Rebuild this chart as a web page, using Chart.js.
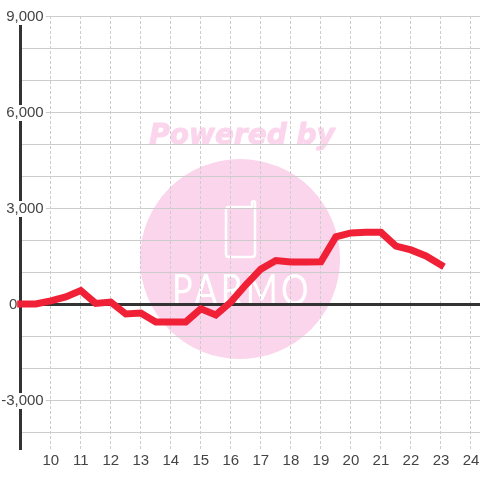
<!DOCTYPE html>
<html><head><meta charset="utf-8">
<style>html,body{margin:0;padding:0;background:#fff}canvas{display:block}</style>
<script src="https://cdn.jsdelivr.net/npm/chart.js@4"></script>
</head><body><canvas id="c" width="480" height="480"></canvas>
<script>
const hours=[9,9.5,10,10.5,11,11.5,12,12.5,13,13.5,14,14.5,15,15.5,16,16.5,17,17.5,18,18.5,19,19.5,20,20.5,21,21.5,22,22.5,23];
const values=[0,0,100,220,420,20,60,-310,-280,-560,-560,-560,-150,-340,60,600,1090,1360,1310,1310,1320,2100,2220,2240,2240,1810,1690,1500,1220];
const yTicks=[-4000,-3000,-2000,-1000,0,1000,2000,3000,4000,5000,6000,7000,8000,9000];
const xTicks=[9,10,11,12,13,14,15,16,17,18,19,20,21,22,23,24];
const watermarkTitle='Powered by';
const watermarkBrand='PARMO';
const pink='#fbd5ec';
const watermark={id:'watermark',beforeDraw(chart){
  const g=chart.ctx;g.save();
  g.fillStyle='#fff';g.fillRect(0,0,480,480);
  g.fillStyle=pink;
  g.beginPath();g.arc(240,259,100,0,Math.PI*2);g.fill();
  g.font='italic bold 28px "DejaVu Sans"';g.textAlign='center';g.textBaseline='alphabetic';
  g.strokeStyle=pink;g.lineWidth=1;g.lineJoin='round';
  g.fillText(watermarkTitle,242,144);g.strokeText(watermarkTitle,242,144);
  g.strokeStyle='#fff';g.lineWidth=2.5;g.lineCap='round';
  g.beginPath();
  g.moveTo(250,207);g.lineTo(229,207);g.quadraticCurveTo(226,207,226,210);
  g.lineTo(226,254);g.quadraticCurveTo(226,257,229,257);
  g.lineTo(252,257);g.quadraticCurveTo(255,257,255,254);
  g.lineTo(255,202);g.quadraticCurveTo(253.5,200,252,202);g.lineTo(252,207);
  g.stroke();
  g.fillStyle='#fff';g.font='400 42px Lato';g.textAlign='left';
  g.letterSpacing='4px';
  g.translate(172,305);g.scale(0.82,1);
  g.fillText(watermarkBrand,0,0);
  g.restore();
}};
Chart.defaults.animation=false;
new Chart(document.getElementById('c'),{
  type:'line',
  data:{datasets:[{data:hours.map((h,i)=>({x:h,y:values[i]})),borderColor:'#f02136',borderWidth:7,borderCapStyle:'square',tension:0,pointRadius:0,clip:false,fill:false}]},
  plugins:[watermark],
  options:{responsive:false,devicePixelRatio:1,
    layout:{autoPadding:false,padding:{top:16,left:0.7,right:0,bottom:0}},
    plugins:{legend:{display:false},tooltip:{enabled:false},title:{display:false}},
    scales:{
      x:{type:'linear',min:9,max:24.3,
        afterBuildTicks(s){s.ticks=xTicks.map(v=>({value:v}));},
        afterFit(s){s.height=31;s.paddingLeft=0;s.paddingRight=0;},
        ticks:{autoSkip:false,maxRotation:0,padding:3,color:'#444',font:{family:'"Liberation Sans"',size:15},
          callback:v=>v===9?'':String(v)},
        grid:{color:'#ccc',lineWidth:1,tickLength:0,drawTicks:false},
        border:{display:false,dash:[3,2]}},
      y:{min:-4531,max:9000,
        afterBuildTicks(s){s.ticks=yTicks.map(v=>({value:v}));},
        afterFit(s){
          s.width=20;s.paddingTop=0;s.paddingBottom=0;s._computeLabelArea=()=>undefined;
          if(!s._shifted){s._shifted=true;const f=s._computeLabelItems.bind(s);
            s._computeLabelItems=a=>f(a).map(it=>{it.options.translation=[it.options.translation[0],it.options.translation[1]+1];return it;});}
        },
        ticks:{autoSkip:false,padding:-23,color:'#444',font:{family:'"Liberation Sans"',size:15},
          showLabelBackdrop:c=>!!c.tick&&c.tick.value!==0&&c.tick.value%3000===0,backdropColor:'#fff',backdropPadding:{left:0,right:2,top:-1,bottom:-1},
          callback:v=>v===0?'0\u00a0\u00a0\u00a0\u00a0\u00a0\u00a0\u200a':(v%3000===0?v.toLocaleString('en-US'):'')},
        grid:{drawTicks:false,tickLength:0,
          color:c=>c.tick&&c.tick.value===0?'#333':'#ccc',
          lineWidth:c=>c.tick&&c.tick.value===0?3:1},
        border:{display:true,color:'#333',width:3}}
    }}
});
</script></body></html>
